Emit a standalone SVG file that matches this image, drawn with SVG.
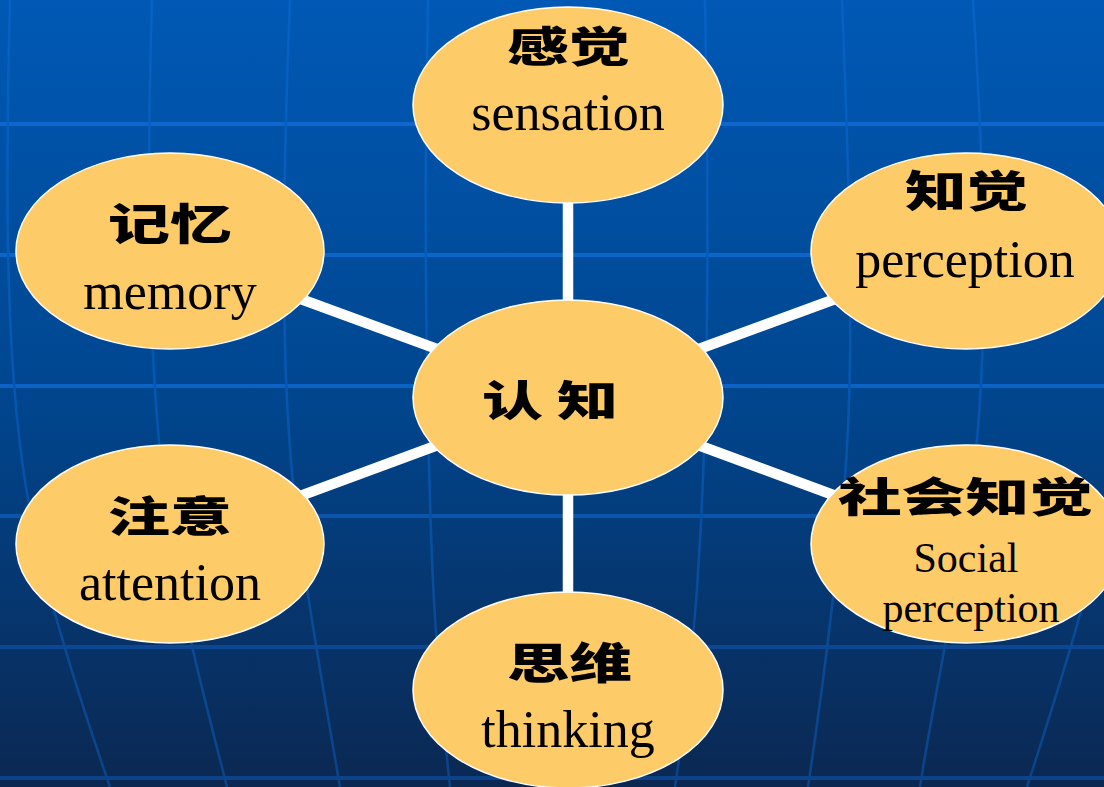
<svg xmlns="http://www.w3.org/2000/svg" width="1104" height="787" viewBox="0 0 1104 787">
<defs>
<linearGradient id="bg" x1="0" y1="0" x2="0" y2="787" gradientUnits="userSpaceOnUse">
<stop offset="0" stop-color="#0059B5"/>
<stop offset="0.5" stop-color="#00468F"/>
<stop offset="1" stop-color="#0B2852"/>
</linearGradient>
<linearGradient id="gridc" x1="0" y1="0" x2="0" y2="787" gradientUnits="userSpaceOnUse">
<stop offset="0" stop-color="#0F69D2"/>
<stop offset="0.5" stop-color="#0A62C4"/>
<stop offset="0.8" stop-color="#0B4894"/>
<stop offset="1" stop-color="#0C4388"/>
</linearGradient>
<linearGradient id="gridv" x1="0" y1="0" x2="0" y2="787" gradientUnits="userSpaceOnUse">
<stop offset="0" stop-color="#0762C4"/>
<stop offset="0.5" stop-color="#0656B2"/>
<stop offset="0.8" stop-color="#0A4A96"/>
<stop offset="1" stop-color="#0C4388"/>
</linearGradient>
<style>
.h{stroke:url(#gridc);stroke-width:4;fill:none}
.v{stroke:url(#gridv);stroke-width:2.5;fill:none}
.c{stroke:#FFFFFF;stroke-width:10.5;fill:none}
.n{fill:#FECB69;stroke:#FFFFFF;stroke-width:1.5}
.zh{font-family:"Noto Sans CJK SC",sans-serif;font-weight:900;fill:#000}
.en{font-family:"Liberation Serif","Times New Roman",serif;fill:#000}
</style>
</defs>
<rect width="1104" height="787" fill="url(#bg)"/>
<g id="grid">
<path class="h" d="M0,124H1104M0,255H1104M0,386H1104M0,516H1104M0,647H1104M0,778H1104"/>
<path class="v" d="M10,0 C5,200 5,380 30,510 C45,590 80,700 110,787"/>
<path class="v" d="M152,0 C146,200 148,380 168,520 C178,600 210,720 227,787"/>
<path class="v" d="M290,0 C282,200 280,380 296,510 C304,580 325,700 340,787"/>
<path class="v" d="M428,0 C424,200 426,400 432,560 C436,660 445,740 450,787"/>
<path class="v" d="M705,0 C709,200 708,400 700,540 C695,640 682,740 675,787"/>
<path class="v" d="M842,0 C850,200 856,380 842,510 C832,620 815,740 808,787"/>
<path class="v" d="M973,0 C986,200 990,380 968,510 C955,600 930,720 920,787"/>
<path class="v" d="M1130,0 C1135,200 1135,380 1106,510 C1090,590 1055,700 1027,787"/>
</g>
<g id="connectors">
<line class="c" x1="568" y1="105" x2="568" y2="397"/>
<line class="c" x1="568" y1="397" x2="568" y2="690"/>
<line class="c" x1="170" y1="251" x2="568" y2="397"/>
<line class="c" x1="170" y1="544" x2="568" y2="397"/>
<line class="c" x1="966" y1="251" x2="568" y2="397"/>
<line class="c" x1="966" y1="544" x2="568" y2="397"/>
</g>
<g id="node-sensation">
<ellipse class="n" cx="568" cy="105" rx="155" ry="98"/>
<text class="zh" x="507" y="62" font-size="42" textLength="123" lengthAdjust="spacingAndGlyphs">感觉</text>
<text class="en" x="568" y="130" font-size="52" text-anchor="middle">sensation</text>
</g>
<g id="node-cognition">
<ellipse class="n" cx="568" cy="397.5" rx="155" ry="97.5"/>
<text class="zh" x="482" y="416" font-size="42" textLength="136" lengthAdjust="spacingAndGlyphs">认 知</text>
</g>
<g id="node-memory">
<ellipse class="n" cx="170" cy="251" rx="154" ry="98"/>
<text class="zh" x="108" y="240" font-size="43" textLength="124" lengthAdjust="spacingAndGlyphs">记忆</text>
<text class="en" x="170" y="309" font-size="52" text-anchor="middle">memory</text>
</g>
<g id="node-perception">
<ellipse class="n" cx="966" cy="251" rx="155" ry="98"/>
<text class="zh" x="905" y="207" font-size="43" textLength="123" lengthAdjust="spacingAndGlyphs">知觉</text>
<text class="en" x="965" y="277" font-size="52" text-anchor="middle">perception</text>
</g>
<g id="node-attention">
<ellipse class="n" cx="170" cy="544" rx="154" ry="99"/>
<text class="zh" x="108" y="532" font-size="42" textLength="124" lengthAdjust="spacingAndGlyphs">注意</text>
<text class="en" x="170" y="600" font-size="52" text-anchor="middle">attention</text>
</g>
<g id="node-social-perception">
<ellipse class="n" cx="966" cy="544" rx="155" ry="99"/>
<text class="zh" x="838" y="512" font-size="41" textLength="255" lengthAdjust="spacingAndGlyphs">社会知觉</text>
<text class="en" x="966" y="572" font-size="42" text-anchor="middle">Social</text>
<text class="en" x="971" y="622" font-size="42" text-anchor="middle">perception</text>
</g>
<g id="node-thinking">
<ellipse class="n" cx="568" cy="690" rx="155" ry="98"/>
<text class="zh" x="507" y="679" font-size="43" textLength="125" lengthAdjust="spacingAndGlyphs">思维</text>
<text class="en" x="568" y="747" font-size="52" text-anchor="middle">thinking</text>
</g>
</svg>
